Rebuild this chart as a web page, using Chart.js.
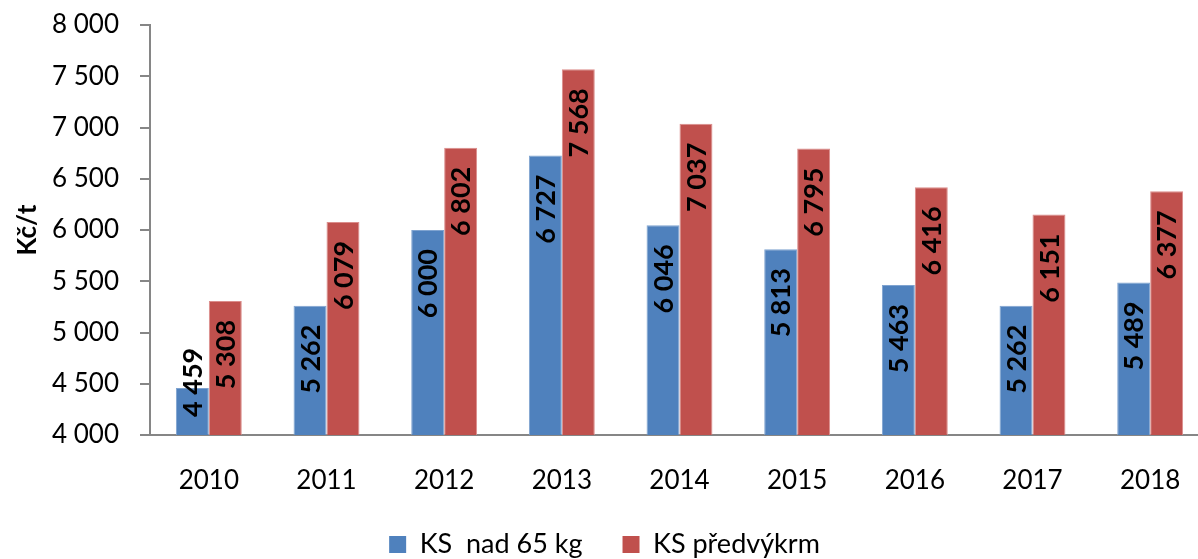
<!DOCTYPE html>
<html>
<head>
<meta charset="utf-8">
<script src="https://cdn.jsdelivr.net/npm/chart.js@4.4.0/dist/chart.umd.min.js"></script>
<style>
html, body { margin: 0; padding: 0; background: #fff; overflow: hidden; width: 1198px; height: 559px; }
#wrap { position: absolute; left: 0; top: 0; width: 1211px; height: 559px; }
</style>
</head>
<body>
<div id="wrap"><canvas id="c"></canvas></div>
<script>
const categories = ['2010', '2011', '2012', '2013', '2014', '2015', '2016', '2017', '2018'];
const seriesNames = ['KS  nad 65 kg', 'KS předvýkrm'];
const over65 = [4459, 5262, 6000, 6727, 6046, 5813, 5463, 5262, 5489];
const predvykrm = [5308, 6079, 6802, 7568, 7037, 6795, 6416, 6151, 6377];
const yMin = 4000, yMax = 8000, yStep = 500;
const yTitle = 'Kč/t';

const fmt = n => String(Math.round(n)).replace(/\B(?=(\d{3})+(?!\d))/g, ' ');
const FONT = 'Lato, "Open Sans", sans-serif';
const AXIS = '#868686';

const labelPlugin = {
  id: 'barLabels',
  afterDatasetsDraw(chart) {
    const ctx = chart.ctx;
    const bottom = chart.chartArea.bottom;
    ctx.save();
    ctx.font = 'bold 27px ' + FONT;
    ctx.fillStyle = '#000';
    ctx.textAlign = 'right';
    ctx.textBaseline = 'middle';
    chart.data.datasets.forEach((ds, di) => {
      const meta = chart.getDatasetMeta(di);
      meta.data.forEach((bar, i) => {
        const txt = fmt(ds.data[i]);
        const w = ctx.measureText(txt).width;
        let anchor = bar.y + 19;
        if (anchor + w > bottom - 18) anchor = bottom - 18 - w;
        ctx.save();
        ctx.translate(bar.x + 1, anchor);
        ctx.rotate(-Math.PI / 2);
        ctx.fillText(txt, 0, 0);
        ctx.restore();
      });
    });
    ctx.restore();
  }
};

new Chart(document.getElementById('c'), {
  type: 'bar',
  data: {
    labels: categories,
    datasets: [
      { label: seriesNames[0], data: over65, backgroundColor: '#4F81BD', borderColor: '#7FA3D0', borderWidth: 1 },
      { label: seriesNames[1], data: predvykrm, backgroundColor: '#C0504D', borderColor: '#DB8D8B', borderWidth: 1 }
    ]
  },
  plugins: [labelPlugin],
  options: {
    responsive: true,
    maintainAspectRatio: false,
    animation: false,
    layout: { padding: { left: 0, right: 2, top: 25, bottom: -9 } },
    datasets: { bar: { barPercentage: 1, categoryPercentage: 0.56 } },
    plugins: {
      tooltip: { enabled: false },
      legend: {
        position: 'bottom',
        labels: {
          font: { family: FONT, size: 27 },
          color: '#000',
          boxWidth: 17,
          boxHeight: 17,
          padding: 40,
          generateLabels(chart) {
            return chart.data.datasets.map((ds, i) => ({
              text: ds.label, fillStyle: ds.backgroundColor, strokeStyle: ds.backgroundColor,
              lineWidth: 0, hidden: false, datasetIndex: i, fontColor: '#000'
            }));
          }
        }
      }
    },
    scales: {
      x: {
        afterFit(scale) { scale.height = 56; scale.paddingLeft = 0; scale.paddingRight = 0; },
        grid: { display: false },
        border: { color: AXIS, width: 2 },
        ticks: { font: { family: FONT, size: 26 }, color: '#000', padding: 22 }
      },
      y: {
        min: yMin, max: yMax,
        afterFit(scale) { scale.width = 150; scale.paddingTop = 0; scale.paddingBottom = 0; },
        grid: { drawOnChartArea: false, drawTicks: true, tickLength: 10, color: AXIS, lineWidth: 2 },
        border: { color: AXIS, width: 2 },
        title: { display: true, text: yTitle, font: { family: FONT, size: 26, weight: 'bold' }, color: '#000', padding: { top: 12, bottom: 0 } },
        ticks: { stepSize: yStep, font: { family: FONT, size: 26 }, color: '#000', padding: 21, callback: v => fmt(v) }
      }
    }
  }
});
</script>
</body>
</html>
